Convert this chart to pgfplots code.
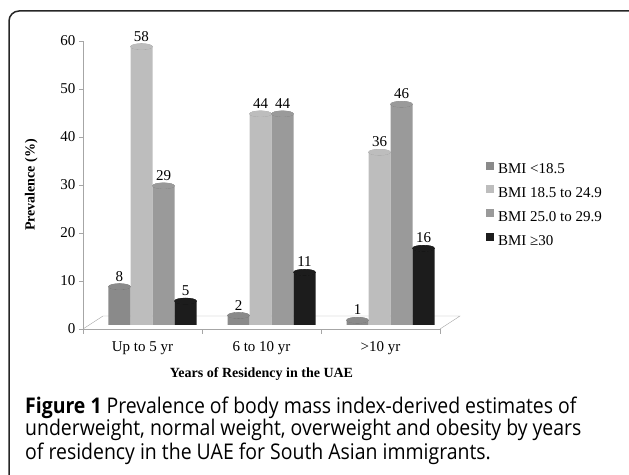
\documentclass[border=0pt]{standalone}
\usepackage{pgfplots}
\pgfplotsset{compat=1.18}
\usetikzlibrary{shapes.geometric}
\usepackage{fontspec}
\setmainfont{Liberation Serif}
\newfontfamily\capfont[FakeStretch=0.9]{Open Sans}
\definecolor{cA}{HTML}{8A8A8A}
\definecolor{cB}{HTML}{BDBDBD}
\definecolor{cC}{HTML}{9A9A9A}
\definecolor{cD}{HTML}{1C1C1C}
\tikzset{captop/.style n args={3}{label={[shape=ellipse, minimum width=22pt, minimum height=6pt,
   inner sep=0pt, fill=#1, draw=#2, line width=0.3pt, anchor=center, label distance=0pt]south:{}},
   append after command={(\tikzlastnode.south |- {axis cs:0,0})
     node[shape=ellipse, minimum width=22pt, minimum height=6pt, inner sep=0pt, fill=#3, draw=none] {}}}}
\begin{document}
\begin{tikzpicture}[x=1pt,y=1pt]
\useasboundingbox (0,0) rectangle (629,474);
\draw[line width=1.5pt, rounded corners=10pt, black!85] (9,-20) rectangle (650,463);
\begin{axis}[
  at={(83pt,145pt)}, anchor=south west, scale only axis,
  width=357pt, height=288pt,
  xmin=-0.5, xmax=2.5, ymin=0, ymax=60,
  ybar=0pt, bar width=22pt,
  axis x line*=bottom, axis y line*=left,
  axis line style={gray!70,-},
  tick align=outside,
  ytick={0,10,...,60},
  ytick style={gray!70},
  major tick length=4pt,
  xtick={0,1,2}, xticklabels={Up to 5 yr, 6 to 10 yr, {>10 yr}},
  major x tick style={draw=none},
  extra x ticks={-0.5,0.5,1.5,2.5}, extra x tick labels={},
  extra x tick style={major x tick style={draw=gray!70}, major tick length=5pt},
  tick label style={font=\fontsize{15}{18}\selectfont},
  xticklabel style={yshift=-5pt},
  /pgf/number format/assume math mode=true,
  xlabel={\textbf{Years of Residency in the UAE}},
  xlabel style={yshift=3pt},
  ylabel={\textbf{Prevalence (\%)}},
  ylabel shift=16pt,
  label style={font=\fontsize{14}{17}\selectfont},
  every axis plot/.append style={xshift=10pt, yshift=4pt, draw=none},
  nodes near coords,
  every node near coord/.append style={font=\fontsize{15}{18}\selectfont, anchor=south,
     inner ysep=5pt, text=black},
  legend style={at={(1.12,0.43)}, anchor=west, draw=none, fill=none,
    font=\fontsize{15}{18}\selectfont, row sep=8pt, nodes={inner xsep=4pt}},
  legend cell align=left,
  clip=false,
]
\draw[gray!70] (axis cs:-0.5,0) -- ([shift={(20pt,13pt)}]axis cs:-0.5,0)
   -- ([shift={(20pt,13pt)}]axis cs:2.5,0) -- (axis cs:2.5,0);
\addplot[fill=cA, every node near coord/.append style={captop={cA!75!white}{cA!70!black}{cA}},
   legend image code/.code={\fill[cA] (0pt,-4pt) rectangle (8pt,4pt);}]
   coordinates {(0,8) (1,2) (2,1)};
\addplot[fill=cB, every node near coord/.append style={captop={cB!70!white}{cB!75!black}{cB}},
   legend image code/.code={\fill[cB] (0pt,-4pt) rectangle (8pt,4pt);}]
   coordinates {(0,58) (1,44) (2,36)};
\addplot[fill=cC, every node near coord/.append style={captop={cC!75!white}{cC!70!black}{cC}},
   legend image code/.code={\fill[cC] (0pt,-4pt) rectangle (8pt,4pt);}]
   coordinates {(0,29) (1,44) (2,46)};
\addplot[fill=cD, every node near coord/.append style={captop={cD!75!white}{black}{cD}},
   legend image code/.code={\fill[cD] (0pt,-4pt) rectangle (8pt,4pt);}]
   coordinates {(0,5) (1,11) (2,16)};
\legend{BMI <18.5, BMI 18.5 to 24.9, BMI 25.0 to 29.9, BMI ≥30}
\end{axis}
\begin{scope}[every node/.style={anchor=base west, inner sep=0pt, font=\capfont\fontsize{21.6}{24}\selectfont}]
\node at (25,61) {\textbf{Figure 1} Prevalence of body mass index-derived estimates of};
\node at (25,38) {underweight, normal weight, overweight and obesity by years};
\node at (25,15) {of residency in the UAE for South Asian immigrants.};
\end{scope}
\end{tikzpicture}
\end{document}
